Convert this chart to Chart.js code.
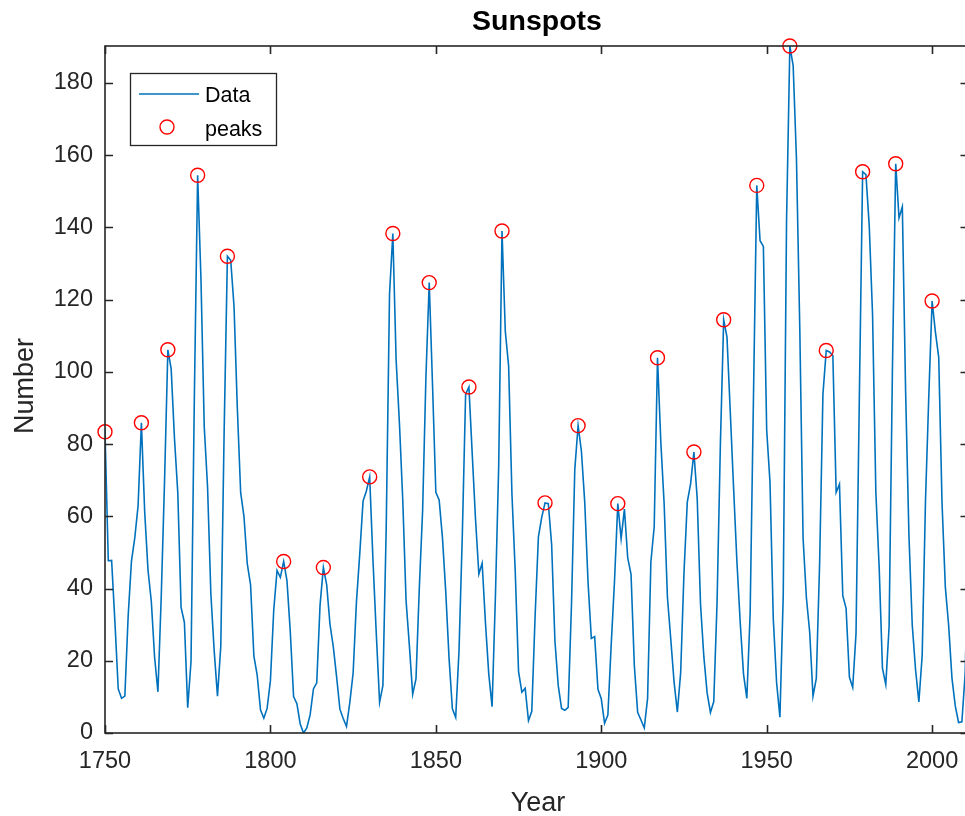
<!DOCTYPE html>
<html>
<head>
<meta charset="utf-8">
<script src="https://cdn.jsdelivr.net/npm/chart.js@4"></script>
<style>
html,body{margin:0;padding:0;background:#fff;overflow:hidden;}
#wrap{width:970px;height:816px;}
</style>
</head>
<body>
<div id="wrap"><canvas id="c" width="970" height="816"></canvas></div>
<script>
const years = [1749,1750,1751,1752,1753,1754,1755,1756,1757,1758,1759,1760,1761,1762,1763,1764,1765,1766,1767,1768,1769,1770,1771,1772,1773,1774,1775,1776,1777,1778,1779,1780,1781,1782,1783,1784,1785,1786,1787,1788,1789,1790,1791,1792,1793,1794,1795,1796,1797,1798,1799,1800,1801,1802,1803,1804,1805,1806,1807,1808,1809,1810,1811,1812,1813,1814,1815,1816,1817,1818,1819,1820,1821,1822,1823,1824,1825,1826,1827,1828,1829,1830,1831,1832,1833,1834,1835,1836,1837,1838,1839,1840,1841,1842,1843,1844,1845,1846,1847,1848,1849,1850,1851,1852,1853,1854,1855,1856,1857,1858,1859,1860,1861,1862,1863,1864,1865,1866,1867,1868,1869,1870,1871,1872,1873,1874,1875,1876,1877,1878,1879,1880,1881,1882,1883,1884,1885,1886,1887,1888,1889,1890,1891,1892,1893,1894,1895,1896,1897,1898,1899,1900,1901,1902,1903,1904,1905,1906,1907,1908,1909,1910,1911,1912,1913,1914,1915,1916,1917,1918,1919,1920,1921,1922,1923,1924,1925,1926,1927,1928,1929,1930,1931,1932,1933,1934,1935,1936,1937,1938,1939,1940,1941,1942,1943,1944,1945,1946,1947,1948,1949,1950,1951,1952,1953,1954,1955,1956,1957,1958,1959,1960,1961,1962,1963,1964,1965,1966,1967,1968,1969,1970,1971,1972,1973,1974,1975,1976,1977,1978,1979,1980,1981,1982,1983,1984,1985,1986,1987,1988,1989,1990,1991,1992,1993,1994,1995,1996,1997,1998,1999,2000,2001,2002,2003,2004,2005,2006,2007,2008,2009,2010,2011,2012];
const sunspots = [80.9,83.4,47.7,47.8,30.7,12.2,9.6,10.2,32.4,47.6,54.0,62.9,85.9,61.2,45.1,36.4,20.9,11.4,37.8,69.8,106.1,100.8,81.6,66.5,34.8,30.6,7.0,19.8,92.5,154.4,125.9,84.8,68.1,38.5,22.8,10.2,24.1,82.9,132.0,130.9,118.1,89.9,66.6,60.0,46.9,41.0,21.3,16.0,6.4,4.1,6.8,14.5,34.0,45.0,43.1,47.5,42.2,28.1,10.1,8.1,2.5,0.0,1.4,5.0,12.2,13.9,35.4,45.8,41.1,30.1,23.9,15.6,6.6,4.0,1.8,8.5,16.6,36.3,49.6,64.2,67.0,70.9,47.8,27.5,8.5,13.2,56.9,121.5,138.3,103.2,85.7,64.6,36.7,24.2,10.7,15.0,40.1,61.5,98.5,124.7,96.3,66.6,64.5,54.1,39.0,20.6,6.7,4.3,22.7,54.8,93.8,95.8,77.2,59.1,44.0,47.0,30.5,16.3,7.3,37.6,74.0,139.0,111.2,101.6,66.2,44.7,17.0,11.3,12.4,3.4,6.0,32.3,54.3,59.7,63.7,63.5,52.2,25.4,13.1,6.8,6.3,7.1,35.6,73.0,85.1,78.0,64.0,41.8,26.2,26.7,12.1,9.5,2.7,5.0,24.4,42.0,63.5,53.8,62.0,48.5,43.9,18.6,5.7,3.6,1.4,9.6,47.4,57.1,103.9,80.6,63.6,37.6,26.1,14.2,5.8,16.7,44.3,63.9,69.0,77.8,64.9,35.7,21.2,11.1,5.7,8.7,36.1,79.7,114.4,109.6,88.8,67.8,47.5,30.6,16.3,9.6,33.2,92.6,151.6,136.3,134.7,83.9,69.4,31.5,13.9,4.4,38.0,141.7,190.2,184.8,159.0,112.3,53.9,37.5,27.9,10.2,15.1,47.0,93.8,105.9,105.5,104.5,66.6,68.9,38.0,34.5,15.5,12.6,27.5,92.5,155.4,154.6,140.4,115.9,66.6,45.9,17.9,13.4,29.4,100.2,157.6,142.6,145.7,94.3,54.6,29.9,17.5,8.6,21.5,64.3,93.3,119.6,111.0,104.0,63.7,40.4,29.8,15.2,7.5,2.9,3.1,16.5,55.7,57.6];
const peakYears = [1750,1761,1769,1778,1787,1804,1816,1830,1837,1848,1860,1870,1883,1893,1905,1917,1928,1937,1947,1957,1968,1979,1989,2000];
const peakValues = [83.4,85.9,106.1,154.4,132.0,47.5,45.8,70.9,138.3,124.7,95.8,139.0,63.7,85.1,63.5,103.9,77.8,114.4,151.6,190.2,105.9,155.4,157.6,119.6];
const xTickValues = [1750,1800,1850,1900,1950,2000];
const yTickValues = [0,20,40,60,80,100,120,140,160,180];
const titleText = 'Sunspots';
const xLabel = 'Year';
const yLabel = 'Number';
const legendLabels = ['Data','peaks'];

const AX = '#262626';
const LINE = '#0072BD';
const PEAK = '#FF0000';
const FONT = '"Liberation Sans", Arial, Helvetica, sans-serif';

const lineData = years.map((y,i)=>({x:y,y:sunspots[i]}));
const peakData = peakYears.map((y,i)=>({x:y,y:peakValues[i]}));

const decor = {
  id:'decor',
  afterDraw(chart){
    const ctx = chart.ctx, a = chart.chartArea;
    const xs = chart.scales.x, ys = chart.scales.y;
    ctx.save();
    ctx.strokeStyle = AX; ctx.lineWidth = 1.6;
    ctx.strokeRect(a.left, a.top, a.right-a.left, a.bottom-a.top);
    const tl = 8;
    ctx.beginPath();
    xTickValues.forEach(v=>{
      const px = Math.round(xs.getPixelForValue(v))+0.5;
      ctx.moveTo(px,a.bottom); ctx.lineTo(px,a.bottom-tl);
      ctx.moveTo(px,a.top); ctx.lineTo(px,a.top+tl);
    });
    yTickValues.forEach(v=>{
      const py = Math.round(ys.getPixelForValue(v))+0.5;
      ctx.moveTo(a.left,py); ctx.lineTo(a.left+tl,py);
      ctx.moveTo(a.right,py); ctx.lineTo(a.right-tl,py);
    });
    ctx.stroke();
    ctx.fillStyle = '#000';
    ctx.font = 'bold 28.5px ' + FONT;
    ctx.textAlign = 'center'; ctx.textBaseline = 'alphabetic';
    ctx.fillText(titleText, 537, 30);
    ctx.fillStyle = AX;
    ctx.font = '27px ' + FONT;
    ctx.fillText(xLabel, 538, 811);
    ctx.save();
    ctx.translate(33, 386);
    ctx.rotate(-Math.PI/2);
    ctx.fillText(yLabel, 0, 0);
    ctx.restore();
    const lx=130.5, ly=73.5, lw=146, lh=72;
    ctx.fillStyle='#fff';
    ctx.fillRect(lx,ly,lw,lh);
    ctx.strokeStyle = AX; ctx.lineWidth = 1.3;
    ctx.strokeRect(lx,ly,lw,lh);
    ctx.strokeStyle = LINE; ctx.lineWidth = 1.6;
    ctx.beginPath(); ctx.moveTo(139,94); ctx.lineTo(199,94); ctx.stroke();
    ctx.strokeStyle = PEAK; ctx.lineWidth = 1.4;
    ctx.beginPath(); ctx.arc(167,127,7,0,Math.PI*2); ctx.stroke();
    ctx.fillStyle = '#000';
    ctx.font = '21.5px ' + FONT;
    ctx.textAlign='left';
    ctx.fillText(legendLabels[0], 205, 102);
    ctx.fillText(legendLabels[1], 205, 136);
    ctx.restore();
  }
};

const chart = new Chart(document.getElementById('c'), {
  type:'scatter',
  data:{
    datasets:[
      {label:legendLabels[0], data:lineData, showLine:true, borderColor:LINE, borderWidth:1.6, pointRadius:0, pointHoverRadius:0, tension:0, order:2},
      {label:legendLabels[1], data:peakData, showLine:false, pointStyle:'circle', pointRadius:7, borderColor:PEAK, borderWidth:1.4, backgroundColor:'rgba(0,0,0,0)', clip:false, order:1}
    ]
  },
  options:{
    responsive:false, animation:false, devicePixelRatio:1,
    layout:{autoPadding:false, padding:{top:46,right:1.5,left:0,bottom:0}},
    plugins:{legend:{display:false}, title:{display:false}, tooltip:{enabled:false}},
    events:[],
    scales:{
      x:{type:'linear', min:1750, max:2011,
         grid:{display:false, drawTicks:false}, border:{display:false},
         ticks:{stepSize:50, includeBounds:false, autoSkip:false, maxRotation:0, padding:14, color:AX, font:{family:FONT, size:23.5}, callback:v=>String(v)},
         afterFit(s){ s.height = 83; s.paddingLeft = 0; s.paddingRight = 0; }
      },
      y:{type:'linear', min:0, max:190.2,
         grid:{display:false, drawTicks:false}, border:{display:false},
         ticks:{stepSize:20, includeBounds:false, autoSkip:false, padding:12, color:AX, font:{family:FONT, size:23.5}, callback:v=>String(v)},
         afterFit(s){ s.width = 105; s.paddingTop = 0; s.paddingBottom = 0; }
      }
    }
  },
  plugins:[decor]
});
</script>
</body>
</html>
